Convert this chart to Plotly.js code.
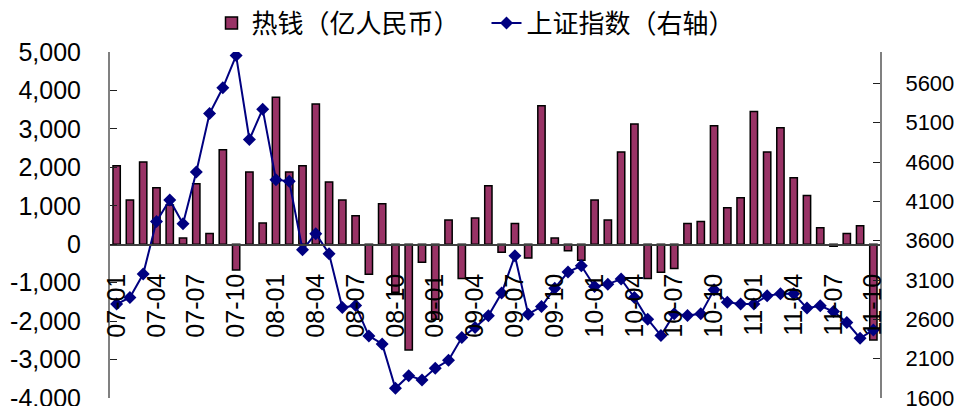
<!DOCTYPE html>
<html>
<head>
<meta charset="utf-8">
<script src="https://cdn.plot.ly/plotly-3.0.1.min.js"></script>
<style>html,body{margin:0;padding:0;background:#fff;}#chart{width:957px;height:406px;}</style>
</head>
<body>
<div id="chart"></div>
<script>
const months = [
  "07-01","07-02","07-03","07-04","07-05","07-06","07-07","07-08","07-09","07-10","07-11","07-12",
  "08-01","08-02","08-03","08-04","08-05","08-06","08-07","08-08","08-09","08-10","08-11","08-12",
  "09-01","09-02","09-03","09-04","09-05","09-06","09-07","09-08","09-09","09-10","09-11","09-12",
  "10-01","10-02","10-03","10-04","10-05","10-06","10-07","10-08","10-09","10-10","10-11","10-12",
  "11-01","11-02","11-03","11-04","11-05","11-06","11-07","11-08","11-09","11-10"
];
const hotMoney = [
  2040, 1150, 2140, 1470, 1020, 160, 1570, 280, 2460, -670, 1880, 550,
  3820, 1880, 2040, 3650, 1620, 1150, 740, -780, 1050, -1250, -2750, -470,
  -1950, 630, -890, 680, 1520, -210, 540, -360, 3600, 160, -170, -420,
  1150, 630, 2400, 3130, -890, -730, -630, 540, 590, 3080, 950, 1210,
  3450, 2400, 3030, 1730, 1270, 430, -50, 280, 480, -2490
];
const shIndex = [
  2794, 2878, 3176, 3846, 4118, 3817, 4475, 5218, 5545, 5955, 4887, 5273,
  4377, 4355, 3485, 3689, 3434, 2750, 2776, 2390, 2288, 1723, 1884, 1829,
  1978, 2080, 2368, 2496, 2645, 2934, 3409, 2666, 2763, 2997, 3201, 3282,
  3018, 3048, 3112, 2878, 2603, 2394, 2670, 2649, 2670, 2976, 2819, 2794,
  2794, 2899, 2925, 2925, 2743, 2772, 2700, 2560, 2360, 2466
];
const leftTickVals = [-4000,-3000,-2000,-1000,0,1000,2000,3000,4000,5000];
const leftTickText = ["-4,000","-3,000","-2,000","-1,000","0","1,000","2,000","3,000","4,000","5,000"];
const rightTickVals = [1600,2100,2600,3100,3600,4100,4600,5100,5600];
const seriesNames = ["热钱（亿人民币）","上证指数（右轴）"];

const latin = "Liberation Sans, Arial, sans-serif";
const cjk = "Noto Sans CJK SC, sans-serif";
const leftRange = [-4000, 5000];
const zeroPos = (0 - leftRange[0]) / (leftRange[1] - leftRange[0]);

const traces = [
  {
    type: "bar", x: months, y: hotMoney, name: seriesNames[0],
    marker: {color: "#993366", line: {color: "#000000", width: 1.5}},
    width: 0.55, xaxis: "x", yaxis: "y"
  },
  {
    type: "scatter", mode: "lines+markers", x: months, y: shIndex, name: seriesNames[1],
    line: {color: "#000080", width: 2},
    marker: {symbol: "diamond", size: 10, color: "#000080"},
    xaxis: "x", yaxis: "y2"
  }
];

const layout = {
  width: 957, height: 406,
  margin: {l: 110, r: 77, t: 52, b: 8, autoexpand: false},
  paper_bgcolor: "#ffffff", plot_bgcolor: "#ffffff",
  showlegend: true,
  legend: {
    orientation: "h", xref: "container", yref: "container",
    x: 0.221, xanchor: "left", y: 0.943, yanchor: "middle",
    font: {family: cjk, size: 26, color: "#000"}, itemwidth: 30,
    entrywidth: 230, entrywidthmode: "pixels",
    bgcolor: "rgba(0,0,0,0)"
  },
  xaxis: {
    type: "category", range: [-0.5, months.length - 0.5],
    anchor: "free", position: zeroPos,
    showline: true, linecolor: "#404040", linewidth: 1.5,
    ticks: "outside", ticklen: 18, tickcolor: "rgba(0,0,0,0)",
    tickmode: "linear", tick0: 0, dtick: 3,
    tickangle: -90,
    tickfont: {family: latin, size: 25, color: "#000"},
    showgrid: false, zeroline: false
  },
  xaxis2: {
    type: "linear", overlaying: "x", anchor: "free", position: zeroPos,
    range: [-0.5, months.length - 0.5],
    tickmode: "linear", tick0: 0.5, dtick: 1,
    ticks: "inside", ticklen: 7, tickcolor: "#a0a0a0", tickwidth: 1.5,
    showticklabels: false, showline: false, showgrid: false, zeroline: false
  },
  yaxis: {
    range: leftRange, tickmode: "array", tickvals: leftTickVals, ticktext: leftTickText,
    showline: true, linecolor: "#808080", linewidth: 2,
    ticks: "inside", ticklen: 7, tickcolor: "#202020", tickwidth: 1,
    ticklabelstandoff: 22, ticklabeloverflow: "allow",
    tickfont: {family: latin, size: 25, color: "#000"},
    showgrid: false, zeroline: false
  },
  yaxis2: {
    overlaying: "y", side: "right", anchor: "x",
    range: [1600, 6000], tickmode: "array", tickvals: rightTickVals,
    showline: true, linecolor: "#808080", linewidth: 2,
    ticks: "inside", ticklen: 7, tickcolor: "#202020", tickwidth: 1,
    ticklabelstandoff: 19, ticklabeloverflow: "allow",
    tickfont: {family: latin, size: 22, color: "#000"},
    showgrid: false, zeroline: false
  }
};

Plotly.newPlot("chart", traces, layout, {displayModeBar: false, staticPlot: true});
</script>
</body>
</html>
